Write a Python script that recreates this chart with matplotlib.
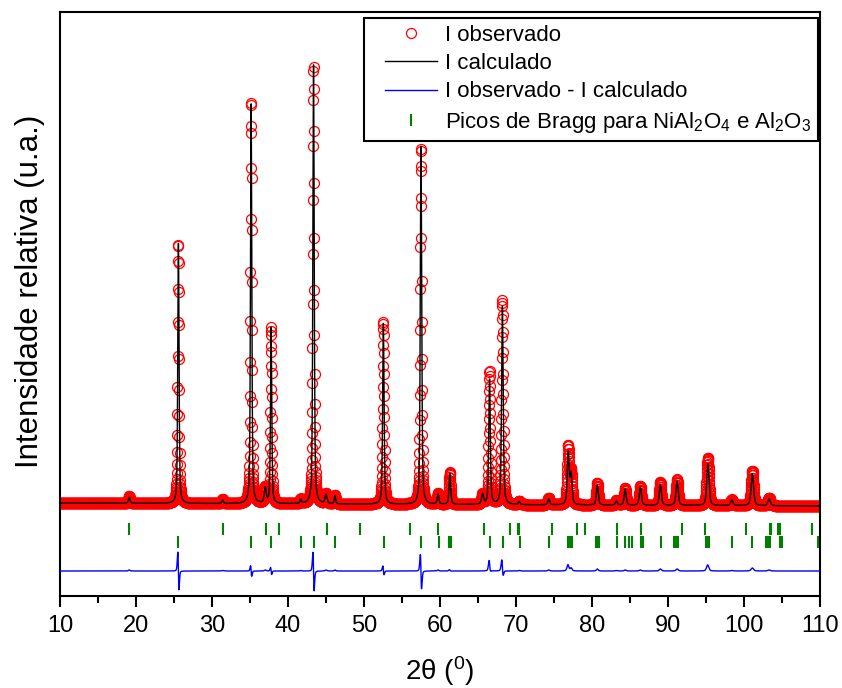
import numpy as np
import matplotlib
matplotlib.use("Agg")
import matplotlib.pyplot as plt
from matplotlib.lines import Line2D
from matplotlib.legend_handler import HandlerLine2D

# fonte parecida com Arial
plt.rcParams["font.family"] = ["Liberation Sans", "DejaVu Sans"]
plt.rcParams["mathtext.fontset"] = "custom"
plt.rcParams["mathtext.rm"] = "Liberation Sans"
plt.rcParams["mathtext.it"] = "Liberation Sans:italic"

# picos (posição 2θ, altura calc, altura obs, largura, deslocamento obs)
pico_pos = [19.10, 25.58, 31.40, 35.15, 37.00, 37.78, 41.68, 43.36, 45.00, 46.18,
            52.55, 57.50, 59.74, 61.30, 65.60, 66.52, 68.21, 70.42, 74.30, 76.87,
            77.25, 80.70, 83.20, 84.36, 86.36, 88.99, 91.20, 95.25, 98.40, 101.10,
            103.30]
altura_calc = [60, 2600, 35, 4030, 150, 1760, 40, 4390, 90, 80,
               1820, 3580, 100, 310, 100, 1250, 1990, 30, 60, 520,
               300, 200, 40, 160, 180, 210, 240, 420, 55, 320,
               70]
altura_obs = [70, 2600, 40, 4030, 160, 1760, 45, 4380, 100, 90,
              1830, 3570, 110, 320, 100, 1330, 2040, 35, 70, 580,
              330, 220, 45, 170, 190, 230, 260, 480, 60, 350,
              80]
largura = [0.25, 0.20, 0.25, 0.20, 0.30, 0.20, 0.22, 0.21, 0.30, 0.22,
           0.22, 0.22, 0.25, 0.25, 0.30, 0.24, 0.25, 0.25, 0.28, 0.30,
           0.30, 0.30, 0.30, 0.30, 0.32, 0.32, 0.34, 0.36, 0.36, 0.38,
           0.38]
desloc_obs = [0, -0.011, 0, -0.002, 0, -0.003, 0, -0.007, 0, 0,
              -0.004, -0.008, 0, -0.003, 0, -0.006, -0.007, 0, 0, -0.004,
              0, 0, 0, 0, 0, 0, 0, -0.004, 0, 0,
              0]
fundo_ini, fundo_fim = 300, 270

# posições de Bragg (linha de cima e linha de baixo)
bragg_nial2o4 = [19.03, 31.45, 37.06, 38.77, 45.09, 49.43, 56.05, 59.74, 65.75, 69.17,
                 70.26, 70.43, 74.69, 77.98, 79.08, 83.29, 86.50, 91.80, 94.90, 100.30,
                 103.40, 103.60, 104.50, 104.70, 109.00]
bragg_al2o3 = [25.53, 35.17, 37.80, 41.71, 43.38, 46.18, 52.58, 57.55, 59.87, 61.14,
               61.40, 66.62, 68.24, 70.53, 74.39, 76.90, 77.15, 77.40, 80.50, 80.70,
               80.90, 83.29, 84.40, 84.90, 85.30, 86.50, 86.70, 89.08, 90.80, 91.05,
               91.35, 94.95, 95.17, 95.43, 98.46, 101.10, 102.85, 103.20, 103.40, 104.70,
               104.95, 109.70, 109.90]

# níveis verticais
nivel_bragg1 = 40
nivel_bragg2 = -90
nivel_dif = -380


def pvoigt(x, pos, h, w, eta=0.5):
    u = (x - pos) / (w / 2)
    lor = 1 / (1 + u ** 2)
    gau = np.exp(-np.log(2) * u ** 2)
    return h * (eta * lor + (1 - eta) * gau)


x = np.arange(10, 110.0001, 0.02)
fundo = fundo_ini + (fundo_fim - fundo_ini) * (x - 10) / 100
i_calc = fundo.copy()
i_obs = fundo.copy()
for p, hc, ho, w, d in zip(pico_pos, altura_calc, altura_obs, largura, desloc_obs):
    i_calc += pvoigt(x, p, hc, w)
    i_obs += pvoigt(x, p + d, ho, w)
dif = i_obs - i_calc + nivel_dif

fig = plt.figure(figsize=(8.42, 6.88), dpi=100)
ax = fig.add_axes([60 / 842, 1 - 596 / 688, 760 / 842, 584 / 688])

ax.plot(x, i_obs, "o", mfc="none", mec="red", ms=7.2, mew=0.9, label="I observado", zorder=2)
ax.plot(x, i_calc, "-", color="black", lw=1.0, label="I calculado", zorder=3)
ax.plot(x, dif, "-", color="blue", lw=1.0, label="I observado - I calculado", zorder=3)
ax.plot(bragg_nial2o4, [nivel_bragg1] * len(bragg_nial2o4), "|", color="green",
        ms=8.6, mew=1.5, label="Picos de Bragg para NiAl$_2$O$_4$ e Al$_2$O$_3$")
ax.plot(bragg_al2o3, [nivel_bragg2] * len(bragg_al2o3), "|", color="green", ms=8.6, mew=1.5)

ax.set_xlim(10, 110)
ax.set_ylim(-630, 5210)
ax.set_xticks(np.arange(10, 111, 10))
ax.set_xticks(np.arange(15, 110, 10), minor=True)
ax.set_yticks([])
ax.tick_params(axis="x", which="major", length=8, width=1.5, labelsize=17, pad=6)
ax.tick_params(axis="x", which="minor", length=5, width=1.5)
for s in ax.spines.values():
    s.set_linewidth(1.5)

ax.set_xlabel(r"2θ ($^0$)", fontsize=20, labelpad=12)
ax.set_ylabel("Intensidade relativa (u.a.)", fontsize=22.5)
ax.yaxis.set_label_coords(-0.020, 0.522)

leg = ax.legend(loc="upper right", bbox_to_anchor=(0.9974, 0.9897), borderaxespad=0,
                fontsize=16, numpoints=1, handlelength=3.0, handletextpad=0.36,
                labelspacing=0.33, borderpad=0.3, fancybox=False, framealpha=1,
                handler_map={Line2D: HandlerLine2D(xpad=0.64)})
leg.get_frame().set_edgecolor("black")
leg.get_frame().set_linewidth(1.5)

fig.savefig("out.png", dpi=100)
